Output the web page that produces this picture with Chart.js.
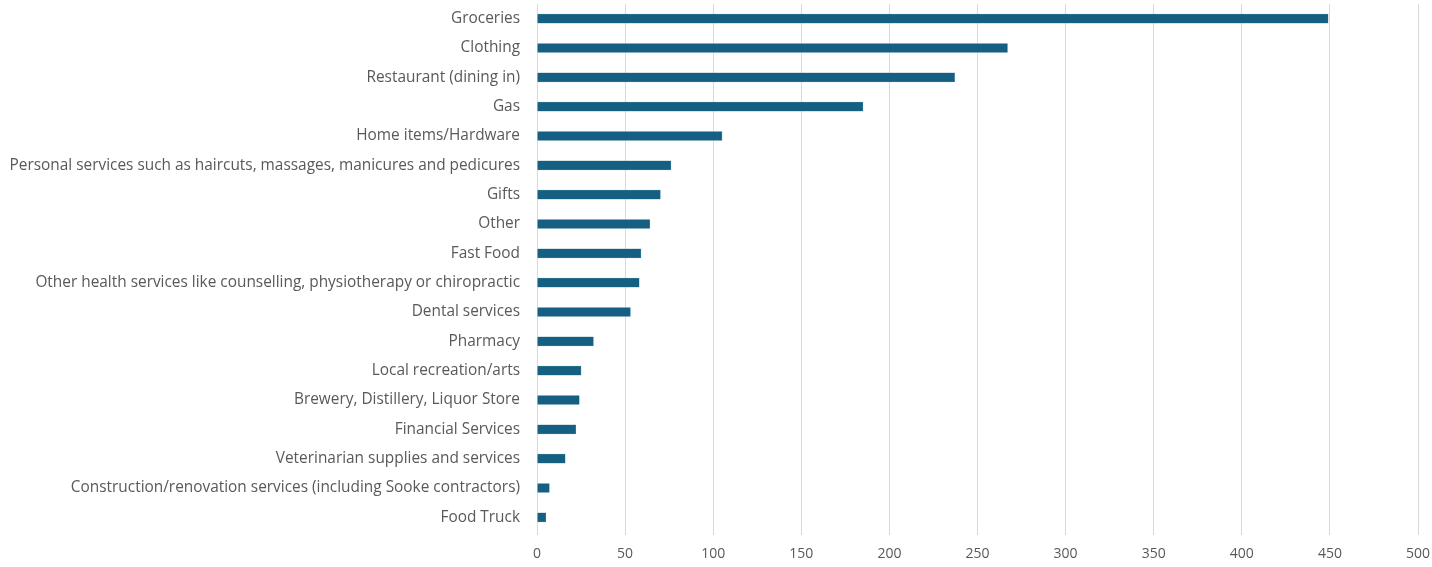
<!DOCTYPE html>
<html>
<head>
<meta charset="utf-8">
<script src="https://cdn.jsdelivr.net/npm/chart.js@4"></script>
<style>
  html, body { margin: 0; padding: 0; background: #fff; }
  #wrap { width: 1432px; height: 567px; position: relative; }
</style>
</head>
<body>
<div id="wrap"><canvas id="myBarChart"></canvas></div>
<script>
const categories = [
    "Groceries",
    "Clothing",
    "Restaurant (dining in)",
    "Gas",
    "Home items/Hardware",
    "Personal services such as haircuts, massages, manicures and pedicures",
    "Gifts",
    "Other",
    "Fast Food",
    "Other health services like counselling, physiotherapy or chiropractic",
    "Dental services",
    "Pharmacy",
    "Local recreation/arts",
    "Brewery, Distillery, Liquor Store",
    "Financial Services",
    "Veterinarian supplies and services",
    "Construction/renovation services (including Sooke contractors)",
    "Food Truck"
];
const counts = [449, 267, 237, 185, 105, 76, 70, 64, 59, 58, 53, 32, 25, 24, 22, 16, 7, 5];
const xTicks = [0, 50, 100, 150, 200, 250, 300, 350, 400, 450, 500];

const ctx = document.getElementById('myBarChart').getContext('2d');

const myBarChart = new Chart(ctx, {
    type: 'bar',
    data: {
        labels: categories,
        datasets: [{
            data: counts,
            backgroundColor: '#156082',
            borderColor: '#5b8fa8',
            borderWidth: 0.5,
            barThickness: 9
        }]
    },
    options: {
        indexAxis: 'y',
        responsive: true,
        maintainAspectRatio: false,
        animation: false,
        layout: { padding: { top: 4, right: 14, left: 0, bottom: 0 } },
        plugins: {
            legend: { display: false },
            tooltip: { enabled: false }
        },
        scales: {
            x: {
                min: 0,
                max: 500,
                afterBuildTicks: (scale) => { scale.ticks = xTicks.map(v => ({ value: v })); },
                afterFit: (scale) => {
                    scale.height = 35;
                    scale.paddingLeft = 0;
                    scale.paddingRight = 0;
                },
                grid: { color: '#d9d9d9', lineWidth: 1, tickLength: 3 },
                border: { display: false },
                ticks: {
                    color: '#595959',
                    font: { family: 'Open Sans', size: 14 },
                    padding: 11
                }
            },
            y: {
                afterFit: (scale) => {
                    scale.width = 537;
                    scale.paddingTop = 0;
                    scale.paddingBottom = 0;
                },
                grid: { display: false, tickLength: 0 },
                border: { display: false },
                ticks: {
                    color: '#595959',
                    font: { family: 'Open Sans', size: 15.4 },
                    padding: 17,
                    autoSkip: false
                }
            }
        }
    }
});
</script>
</body>
</html>
